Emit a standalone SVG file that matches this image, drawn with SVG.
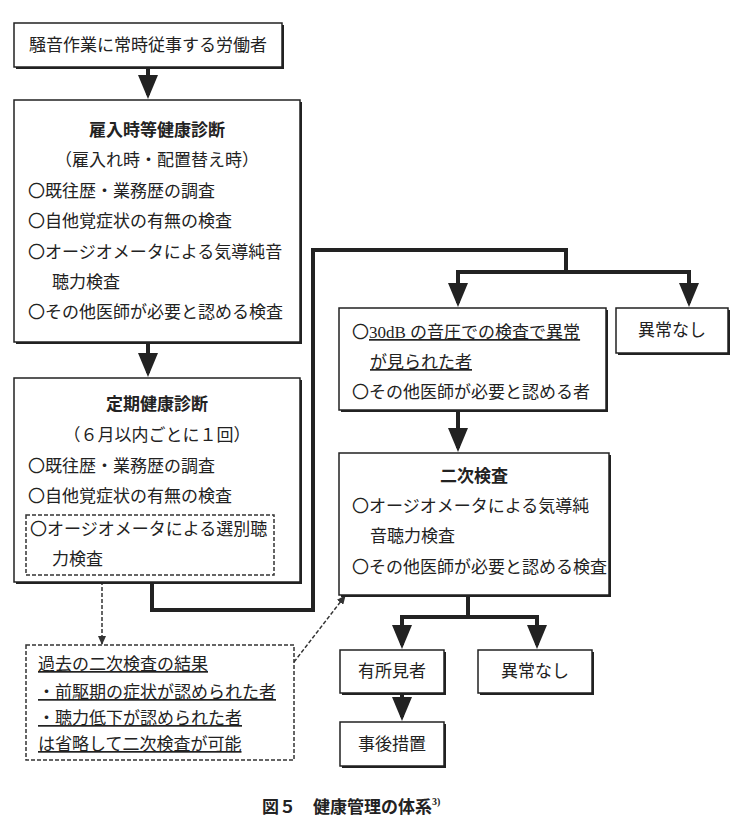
<svg xmlns="http://www.w3.org/2000/svg" width="735" height="831" viewBox="0 0 735 831">
<style>
text{font-family:"Liberation Serif","Noto Sans CJK JP",serif;font-size:17px;fill:#222}
.b{font-weight:bold}
.box{fill:#fff;stroke:#222;stroke-width:1.5}
.sh{fill:#222}
.dash{fill:none;stroke:#333;stroke-width:1.5;stroke-dasharray:4 2}
.thick{fill:none;stroke:#222;stroke-width:4}
.u{text-decoration:underline}
</style>
<defs>
<marker id="ah" markerWidth="6" markerHeight="5" refX="5" refY="2.5" orient="auto" markerUnits="strokeWidth"><path d="M0,0L6,2.5L0,5z" fill="#222"/></marker>
<marker id="ad" markerWidth="9" markerHeight="8" refX="8" refY="4" orient="auto" markerUnits="userSpaceOnUse"><path d="M0,0L9,4L0,8z" fill="#333"/></marker>
</defs>
<g id="connectors">
<line class="thick" x1="148" y1="67" x2="148" y2="95" marker-end="url(#ah)"/>
<line class="thick" x1="148" y1="342" x2="148" y2="373" marker-end="url(#ah)"/>
<polyline class="thick" points="152,582 152,610 313,610 313,250 566,250 566,272"/>
<polyline class="thick" points="458,272 458,303" marker-end="url(#ah)"/>
<polyline class="thick" points="456,272 691,272"/>
<line class="thick" x1="689" y1="272" x2="689" y2="303" marker-end="url(#ah)"/>
<line class="thick" x1="458" y1="410" x2="458" y2="448" marker-end="url(#ah)"/>
<polyline class="thick" points="468,595 468,617"/>
<polyline class="thick" points="400,617 539,617"/>
<line class="thick" x1="402" y1="617" x2="402" y2="645" marker-end="url(#ah)"/>
<line class="thick" x1="537" y1="617" x2="537" y2="645" marker-end="url(#ah)"/>
<line class="thick" x1="402" y1="693" x2="402" y2="717" marker-end="url(#ah)"/>
<line class="dash" x1="102" y1="575" x2="102" y2="644" marker-end="url(#ad)"/>
<line class="dash" x1="294" y1="662" x2="345" y2="596" marker-end="url(#ad)"/>
</g>
<g id="n1"><rect class="sh" x="16" y="25" width="268" height="44"/><rect class="box" x="14" y="23" width="268" height="44"/>
<text x="148" y="51" text-anchor="middle">騒音作業に常時従事する労働者</text></g>
<g id="n2"><rect class="sh" x="16" y="102" width="286" height="242"/><rect class="box" x="14" y="100" width="286" height="242"/>
<text x="157" y="136" text-anchor="middle" class="b">雇入時等健康診断</text>
<text x="157" y="166" text-anchor="middle">（雇入れ時・配置替え時）</text>
<text x="28" y="197">〇既往歴・業務歴の調査</text>
<text x="28" y="227">〇自他覚症状の有無の検査</text>
<text x="28" y="258">〇オージオメータによる気導純音</text>
<text x="52" y="288">聴力検査</text>
<text x="28" y="318">〇その他医師が必要と認める検査</text></g>
<g id="n3"><rect class="sh" x="16" y="380" width="286" height="204"/><rect class="box" x="14" y="378" width="286" height="204"/>
<text x="157" y="410" text-anchor="middle" class="b">定期健康診断</text>
<text x="157" y="441" text-anchor="middle">（６月以内ごとに１回）</text>
<text x="28" y="472">〇既往歴・業務歴の調査</text>
<text x="28" y="502">〇自他覚症状の有無の検査</text>
<rect class="dash" x="26" y="515" width="248" height="60"/>
<text x="30" y="535">〇オージオメータによる選別聴</text>
<text x="52" y="565">力検査</text></g>
<g id="n4"><rect class="sh" x="341" y="310" width="267" height="102"/><rect class="box" x="339" y="308" width="267" height="102"/>
<text x="352" y="338">〇<tspan class="u">30dB の音圧での検査で異常</tspan></text>
<text x="370" y="368" class="u">が見られた者</text>
<text x="352" y="398">〇その他医師が必要と認める者</text></g>
<g id="n5"><rect class="sh" x="618" y="310" width="112" height="45"/><rect class="box" x="616" y="308" width="112" height="45"/>
<text x="672" y="336" text-anchor="middle">異常なし</text></g>
<g id="n6"><rect class="sh" x="341" y="455" width="270" height="142"/><rect class="box" x="339" y="453" width="270" height="142"/>
<text x="474" y="482" text-anchor="middle" class="b">二次検査</text>
<text x="352" y="512">〇オージオメータによる気導純</text>
<text x="370" y="542">音聴力検査</text>
<text x="352" y="573">〇その他医師が必要と認める検査</text></g>
<g id="n7"><rect class="sh" x="342" y="652" width="104" height="43"/><rect class="box" x="340" y="650" width="104" height="43"/>
<text x="392" y="677" text-anchor="middle">有所見者</text></g>
<g id="n8"><rect class="sh" x="480" y="652" width="114" height="43"/><rect class="box" x="478" y="650" width="114" height="43"/>
<text x="535" y="677" text-anchor="middle">異常なし</text></g>
<g id="n9"><rect class="sh" x="342" y="724" width="104" height="44"/><rect class="box" x="340" y="722" width="104" height="44"/>
<text x="392" y="750" text-anchor="middle">事後措置</text></g>
<g id="n10"><rect class="dash" x="26" y="645" width="268" height="115"/>
<text x="38" y="670" class="u">過去の二次検査の結果</text>
<text x="38" y="698" class="u">・前駆期の症状が認められた者</text>
<text x="38" y="724" class="u">・聴力低下が認められた者</text>
<text x="38" y="750" class="u">は省略して二次検査が可能</text></g>
<text x="262" y="813" class="b" font-size="18">図５　健康管理の体系<tspan font-size="10" dy="-8">3)</tspan></text>
</svg>
